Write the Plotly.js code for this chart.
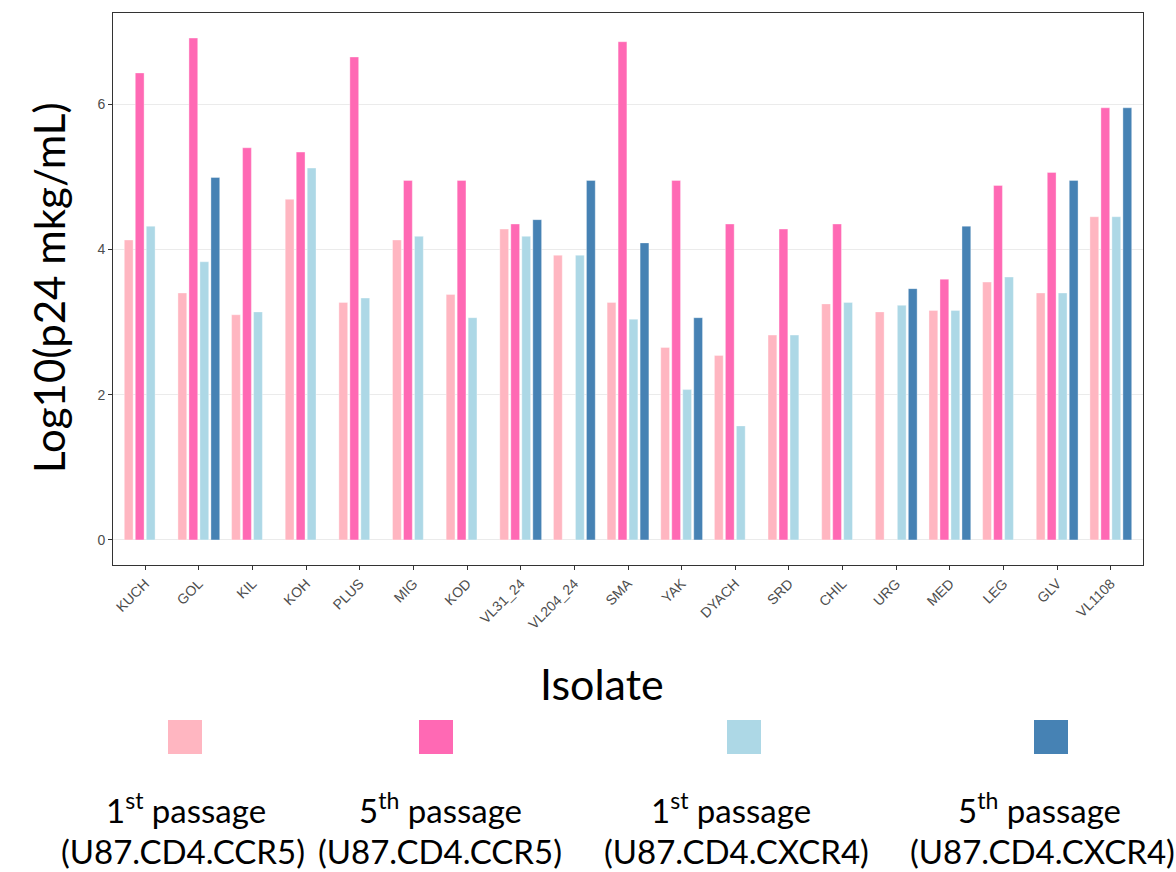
<!DOCTYPE html>
<html>
<head>
<meta charset="utf-8">
<script src="https://cdn.plot.ly/plotly-3.0.1.min.js"></script>
<style>html,body{margin:0;padding:0;background:#fff;}#chart{width:1176px;height:872px;}</style>
</head>
<body>
<div id="chart"></div>
<script>
const isolates = ["KUCH","GOL","KIL","KOH","PLUS","MIG","KOD","VL31_24","VL204_24","SMA","YAK","DYACH","SRD","CHIL","URG","MED","LEG","GLV","VL1108"];
const p1_ccr5  = [4.13, 3.40, 3.10, 4.69, 3.27, 4.13, 3.38, 4.28, 3.92, 3.27, 2.65, 2.54, 2.82, 3.25, 3.14, 3.16, 3.55, 3.40, 4.45];
const p5_ccr5  = [6.43, 6.91, 5.40, 5.34, 6.65, 4.95, 4.95, 4.35, null, 6.86, 4.95, 4.35, 4.28, 4.35, null, 3.59, 4.88, 5.06, 5.95];
const p1_cxcr4 = [4.32, 3.83, 3.14, 5.12, 3.33, 4.18, 3.06, 4.18, 3.92, 3.04, 2.07, 1.57, 2.82, 3.27, 3.23, 3.16, 3.62, 3.40, 4.45];
const p5_cxcr4 = [null, 4.99, null, null, null, null, null, 4.41, 4.95, 4.09, 3.06, null, null, null, 3.46, 4.32, null, 4.95, 5.95];
const seriesColors = ["#FFB6C1", "#FF69B4", "#ADD8E6", "#4682B4"];
const legendLine1 = ["1<sup>st</sup> passage", "5<sup>th</sup> passage", "1<sup>st</sup> passage", "5<sup>th</sup> passage"];
const legendLine2 = ["(U87.CD4.CCR5)", "(U87.CD4.CCR5)", "(U87.CD4.CXCR4)", "(U87.CD4.CXCR4)"];
const yTicks = [0, 2, 4, 6];

const seriesValues = [p1_ccr5, p5_ccr5, p1_cxcr4, p5_cxcr4];
const traces = seriesValues.map((vals, i) => ({
  type: 'bar', x: isolates, y: vals, name: legendLine2[i],
  marker: {color: seriesColors[i], line: {color: 'rgba(255,255,255,0.6)', width: 0.6}},
  hoverinfo: 'x+y'
}));

const W = 1176, H = 872, L = 113, R = 33, T = 13, B = 307;
const pw = W - L - R, ph = H - T - B;
const px = x => (x - L) / pw;
const py = y => (H - B - y) / ph;

const shapes = [];
const annotations = [];
const sqCenters = [185, 436, 744, 1051];
const txtCenters1 = [186, 440, 731, 1039];
const txtCenters2 = [183, 440, 736, 1042];
const legFont = {family: 'Lato, "Noto Sans", sans-serif', size: 33, color: '#000'};
seriesColors.forEach((c, i) => {
  shapes.push({type: 'rect', xref: 'paper', yref: 'paper',
    x0: px(sqCenters[i] - 17), x1: px(sqCenters[i] + 17), y0: py(754), y1: py(720),
    fillcolor: c, line: {width: 0}});
  annotations.push({xref: 'paper', yref: 'paper', x: px(txtCenters1[i]), y: py(808),
    text: legendLine1[i], showarrow: false, xanchor: 'center', yanchor: 'middle', font: legFont});
  annotations.push({xref: 'paper', yref: 'paper', x: px(txtCenters2[i]), y: py(851),
    text: legendLine2[i], showarrow: false, xanchor: 'center', yanchor: 'middle', font: legFont});
});
annotations.push({xref: 'paper', yref: 'paper', x: px(602), y: py(683), text: 'Isolate',
  showarrow: false, xanchor: 'center', yanchor: 'middle',
  font: {family: 'Lato, "Noto Sans", sans-serif', size: 43, color: '#000'}});
annotations.push({xref: 'paper', yref: 'paper', x: px(49), y: py(288), text: 'Log10(p24 mkg/mL)',
  showarrow: false, xanchor: 'center', yanchor: 'middle', textangle: -90,
  font: {family: 'Lato, "Noto Sans", sans-serif', size: 42, color: '#000'}});

const layout = {
  width: W, height: H,
  margin: {l: L, r: R, t: T, b: B},
  paper_bgcolor: '#fff', plot_bgcolor: '#fff',
  barmode: 'group', bargap: 0.18, bargroupgap: 0.2,
  showlegend: false,
  xaxis: {
    type: 'category', range: [-0.6, 18.6], tickangle: -45,
    tickfont: {family: '"Liberation Sans", Arial, sans-serif', size: 14, color: '#4D4D4D'},
    ticks: 'outside', ticklen: 4, tickcolor: '#333', showgrid: false,
    showline: true, linecolor: '#333', linewidth: 1, mirror: true
  },
  yaxis: {
    range: [-0.3455, 7.2555], tickvals: yTicks, ticktext: yTicks.map(String),
    tickfont: {family: '"Liberation Sans", Arial, sans-serif', size: 14, color: '#4D4D4D'},
    ticks: 'outside', ticklen: 4, tickcolor: '#333',
    showgrid: true, gridcolor: '#EBEBEB', gridwidth: 1, zeroline: false,
    showline: true, linecolor: '#333', linewidth: 1, mirror: true
  },
  shapes: shapes,
  annotations: annotations
};
Plotly.newPlot('chart', traces, layout, {displayModeBar: false, staticPlot: true});
</script>
</body>
</html>
